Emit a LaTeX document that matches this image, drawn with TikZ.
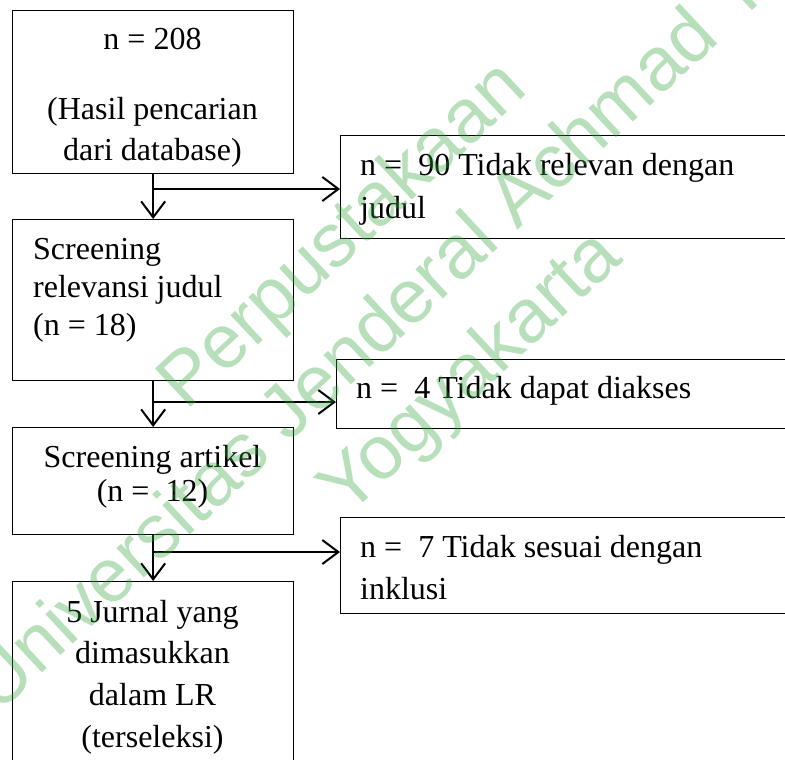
\documentclass[tikz,border=0pt]{standalone}
\usepackage{fontspec}
\setmainfont{Liberation Serif}
\newfontfamily\wmfont{Liberation Sans}
\usetikzlibrary{arrows.meta}
\definecolor{wmgreen}{RGB}{50,165,60}
\begin{document}
\begin{tikzpicture}[x=1pt,y=-1pt,
  box/.style={draw=black, line width=1.3pt, rectangle, inner sep=0pt, anchor=north west},
  txt/.style={inner sep=0pt, font=\fontsize{32}{38}\selectfont},
  txtc/.style={txt, anchor=base},
  txtl/.style={txt, anchor=base west},
  arr/.style={line width=2.4pt, -{Straight Barb[length=16pt,width=24pt,line width=2pt]}},
  wm/.style={font=\wmfont\fontsize{76}{76}\selectfont, text=wmgreen, text opacity=0.35, rotate=43, anchor=base, inner sep=0pt}]
\useasboundingbox (0,0) rectangle (785,760);
\clip (0,0) rectangle (785,760);
\fill[white] (0,0) rectangle (785,760);
% left column boxes
\node[box, minimum width=281pt, minimum height=163pt] (b1) at (12,10) {};
\node[box, minimum width=281pt, minimum height=161pt] (b2) at (12,219) {};
\node[box, minimum width=281pt, minimum height=107pt] (b3) at (12,427) {};
\node[box, minimum width=281pt, minimum height=220pt] (b4) at (12,581) {};
% right column boxes
\node[box, minimum width=470pt, minimum height=103pt] (r1) at (340,135) {};
\node[box, minimum width=470pt, minimum height=69pt] (r2) at (336,359) {};
\node[box, minimum width=470pt, minimum height=96pt] (r3) at (340,517) {};
% texts
\node[txtc] (t1a) at (152.5,50) {n = 208};
\node[txtc] (t1b) at (152.5,119) {(Hasil pencarian};
\node[txtc] (t1c) at (152.5,160) {dari database)};
\node[txtl] (t2a) at (33,259) {Screening};
\node[txtl] (t2b) at (33,297) {relevansi judul};
\node[txtl] (t2c) at (33,335) {(n = 18)};
\node[txtc] (t3a) at (152.5,467) {Screening artikel};
\node[txtc] (t3b) at (152.5,501) {(n = \ 12)};
\node[txtc] (t4a) at (152.5,622) {5 Jurnal yang};
\node[txtc] (t4b) at (152.5,663) {dimasukkan};
\node[txtc] (t4c) at (152.5,705) {dalam LR};
\node[txtc] (t4d) at (152.5,747) {(terseleksi)};
\node[txtl] (s1a) at (360,175) {n = \ 90 Tidak relevan dengan};
\node[txtl] (s1b) at (360,218) {judul};
\node[txtl] (s2a) at (356,398) {n = \ 4 Tidak dapat diakses};
\node[txtl] (s3a) at (360,557) {n = \ 7 Tidak sesuai dengan};
\node[txtl] (s3b) at (360,599) {inklusi};
% connectors
\coordinate (j1) at (152.5,189);
\coordinate (j2) at (152.5,402);
\coordinate (j3) at (152.5,552);
\draw[arr] (b1.south) -- (b2.north);
\draw[arr] (b2.south) -- (b3.north);
\draw[arr] (b3.south) -- (b4.north);
\draw[arr] (j1) -- (r1.west |- j1);
\draw[arr] (j2) -- (r2.west |- j2);
\draw[arr] (j3) -- (r3.west |- j3);
% watermark
\node[wm] (w1) at (357.7,251.5) {Perpustakaan};
\node[wm] (w2) at (421,320) {Universitas Jenderal Achmad Yani};
\node[wm] (w3) at (486,389) {Yogyakarta};
\end{tikzpicture}
\end{document}
